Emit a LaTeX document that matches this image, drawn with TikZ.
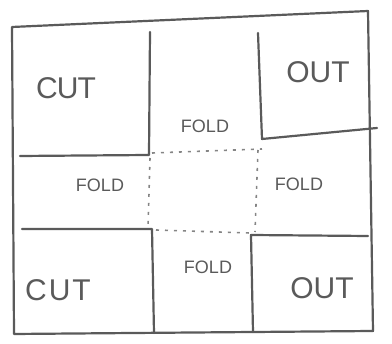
\documentclass[tikz,border=0pt]{standalone}
\usepackage{fontspec}
\setsansfont{Liberation Sans}
\usetikzlibrary{positioning}
\definecolor{Pencil}{HTML}{5A5A5A}
\definecolor{PencilLight}{HTML}{858585}

\begin{document}
\begin{tikzpicture}[x=1pt,y=-1pt,
          every node/.style={font=\sffamily, text=Pencil},
          edge/.style={Pencil, line width=2.2pt, line cap=round, line join=round},
          fold/.style={PencilLight, line width=1.6pt, dash pattern=on 3pt off 6pt},
          big/.style={font=\sffamily\fontsize{30}{34}\selectfont},
          small/.style={font=\sffamily\fontsize{18}{20}\selectfont}]
        \useasboundingbox (0,0) rectangle (392,344);
        % outer sheet
        \draw[edge] (12,27) -- (368,11) -- (373,331) -- (14,334) -- cycle;
        % corner cells
        \draw[edge] (150,32) -- (149,155) -- (20,156);
        \draw[edge] (258,33) -- (262,139) -- (377,128);
        \draw[edge] (22,229) -- (152,229) -- (154,333);
        \draw[edge] (368,236) -- (251,235) -- (253,332);
        % fold lines round the centre
        \draw[fold] (152,153) -- (262,149);
        \draw[fold] (150,158) -- (148,228);
        \draw[fold] (258,150) -- (255,232);
        \draw[fold] (156,230) -- (250,233);
        % labels
        \node[big] (cut1) at (66,88) {C\kern-1ptU\kern-1ptT};
        \node[big] (out1) at (318,72) {OUT};
        \node[big] (cut2) at (58,290) {C\kern2ptU\kern2ptT};
        \node[big] (out2) at (322,288) {OUT};
        \node[small] (fold1) at (205,126) {FOLD};
        \node[small] (fold2) at (100,185) {FOLD};
        \node[small] (fold3) at (299,184) {FOLD};
        \node[small] (fold4) at (208,267) {FOLD};
      \end{tikzpicture}
\end{document}
